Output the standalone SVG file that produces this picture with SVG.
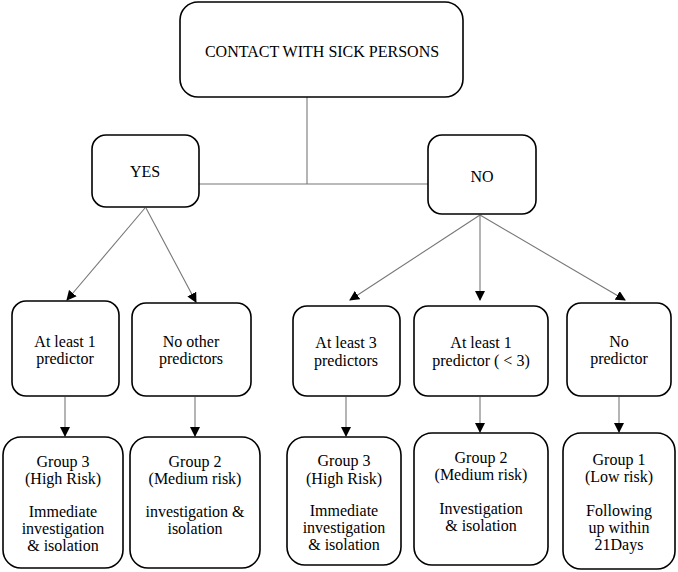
<svg xmlns="http://www.w3.org/2000/svg" width="678" height="572" viewBox="0 0 678 572">
<style>
.box{fill:#fff;stroke:#000;stroke-width:1.6}
.c{fill:none;stroke:#777;stroke-width:1.1}
</style>
<defs>
<marker id="ah" markerWidth="10" markerHeight="10" refX="9" refY="5" orient="auto" markerUnits="userSpaceOnUse">
<path d="M0,0 L10,5 L0,10 z" fill="#000"/>
</marker>
</defs>
<rect width="678" height="572" fill="#fff"/>
<g id="connectors">
<line class="c" x1="307" y1="97" x2="307" y2="184"/>
<line class="c" x1="199" y1="184" x2="428" y2="184"/>
<line class="c" x1="145" y1="208" x2="67" y2="300" marker-end="url(#ah)"/>
<line class="c" x1="146" y1="208" x2="196" y2="302" marker-end="url(#ah)"/>
<line class="c" x1="480" y1="215" x2="350" y2="300" marker-end="url(#ah)"/>
<line class="c" x1="480" y1="215" x2="480" y2="300" marker-end="url(#ah)"/>
<line class="c" x1="480" y1="215" x2="625" y2="300" marker-end="url(#ah)"/>
<line class="c" x1="65" y1="397" x2="65" y2="436" marker-end="url(#ah)"/>
<line class="c" x1="195" y1="397" x2="195" y2="436" marker-end="url(#ah)"/>
<line class="c" x1="346" y1="397" x2="346" y2="436" marker-end="url(#ah)"/>
<line class="c" x1="480" y1="397" x2="480" y2="432" marker-end="url(#ah)"/>
<line class="c" x1="619" y1="397" x2="619" y2="432" marker-end="url(#ah)"/>
</g>
<g id="contact">
<rect class="box" x="180" y="2" width="283" height="95" rx="18"/>
<text font-family="Liberation Serif" font-size="16" text-anchor="middle" x="322" y="57">CONTACT WITH SICK PERSONS</text>
</g>
<g id="yes">
<rect class="box" x="92" y="135" width="107" height="72" rx="14"/>
<text font-family="Liberation Serif" font-size="16" text-anchor="middle" x="145" y="177">YES</text>
</g>
<g id="no">
<rect class="box" x="428" y="135" width="108" height="79" rx="14"/>
<text font-family="Liberation Serif" font-size="16" text-anchor="middle" x="482" y="182">NO</text>
</g>
<g id="yes-atleast1">
<rect class="box" x="12" y="301" width="107" height="95" rx="14"/>
<text font-family="Liberation Serif" font-size="16" text-anchor="middle" x="65" y="347">At least 1</text>
<text font-family="Liberation Serif" font-size="16" text-anchor="middle" x="65" y="364">predictor</text>
</g>
<g id="yes-noother">
<rect class="box" x="132" y="303" width="119" height="93" rx="14"/>
<text font-family="Liberation Serif" font-size="16" text-anchor="middle" x="191" y="347">No other</text>
<text font-family="Liberation Serif" font-size="16" text-anchor="middle" x="191" y="364">predictors</text>
</g>
<g id="no-atleast3">
<rect class="box" x="293" y="306" width="107" height="90" rx="14"/>
<text font-family="Liberation Serif" font-size="16" text-anchor="middle" x="346" y="348">At least 3</text>
<text font-family="Liberation Serif" font-size="16" text-anchor="middle" x="346" y="366">predictors</text>
</g>
<g id="no-atleast1">
<rect class="box" x="414" y="306" width="134" height="90" rx="14"/>
<text font-family="Liberation Serif" font-size="16" text-anchor="middle" x="481" y="348">At least 1</text>
<text font-family="Liberation Serif" font-size="16" text-anchor="middle" x="481" y="366">predictor ( &lt; 3)</text>
</g>
<g id="no-none">
<rect class="box" x="567" y="303" width="104" height="93" rx="14"/>
<text font-family="Liberation Serif" font-size="16" text-anchor="middle" x="619" y="347">No</text>
<text font-family="Liberation Serif" font-size="16" text-anchor="middle" x="619" y="364">predictor</text>
</g>
<g id="g3a">
<rect class="box" x="3" y="437" width="120" height="131" rx="18"/>
<text font-family="Liberation Serif" font-size="16" text-anchor="middle" x="63" y="467">Group 3</text>
<text font-family="Liberation Serif" font-size="16" text-anchor="middle" x="63" y="484">(High Risk)</text>
<text font-family="Liberation Serif" font-size="16" text-anchor="middle" x="63" y="517">Immediate</text>
<text font-family="Liberation Serif" font-size="16" text-anchor="middle" x="63" y="534">investigation</text>
<text font-family="Liberation Serif" font-size="16" text-anchor="middle" x="63" y="551">&amp; isolation</text>
</g>
<g id="g2a">
<rect class="box" x="130" y="437" width="130" height="131" rx="18"/>
<text font-family="Liberation Serif" font-size="16" text-anchor="middle" x="195" y="467">Group 2</text>
<text font-family="Liberation Serif" font-size="16" text-anchor="middle" x="195" y="484">(Medium risk)</text>
<text font-family="Liberation Serif" font-size="16" text-anchor="middle" x="195" y="517">investigation &amp;</text>
<text font-family="Liberation Serif" font-size="16" text-anchor="middle" x="195" y="534">isolation</text>
</g>
<g id="g3b">
<rect class="box" x="287" y="437" width="114" height="128" rx="18"/>
<text font-family="Liberation Serif" font-size="16" text-anchor="middle" x="344" y="466">Group 3</text>
<text font-family="Liberation Serif" font-size="16" text-anchor="middle" x="344" y="484">(High Risk)</text>
<text font-family="Liberation Serif" font-size="16" text-anchor="middle" x="344" y="516">Immediate</text>
<text font-family="Liberation Serif" font-size="16" text-anchor="middle" x="344" y="533">investigation</text>
<text font-family="Liberation Serif" font-size="16" text-anchor="middle" x="344" y="550">&amp; isolation</text>
</g>
<g id="g2b">
<rect class="box" x="414" y="433" width="134" height="132" rx="18"/>
<text font-family="Liberation Serif" font-size="16" text-anchor="middle" x="481" y="463">Group 2</text>
<text font-family="Liberation Serif" font-size="16" text-anchor="middle" x="481" y="480">(Medium risk)</text>
<text font-family="Liberation Serif" font-size="16" text-anchor="middle" x="481" y="514">Investigation</text>
<text font-family="Liberation Serif" font-size="16" text-anchor="middle" x="481" y="531">&amp; isolation</text>
</g>
<g id="g1">
<rect class="box" x="563" y="433" width="112" height="136" rx="18"/>
<text font-family="Liberation Serif" font-size="16" text-anchor="middle" x="619" y="465">Group 1</text>
<text font-family="Liberation Serif" font-size="16" text-anchor="middle" x="619" y="482">(Low risk)</text>
<text font-family="Liberation Serif" font-size="16" text-anchor="middle" x="619" y="516">Following</text>
<text font-family="Liberation Serif" font-size="16" text-anchor="middle" x="619" y="533">up within</text>
<text font-family="Liberation Serif" font-size="16" text-anchor="middle" x="619" y="550">21Days</text>
</g>
</svg>
